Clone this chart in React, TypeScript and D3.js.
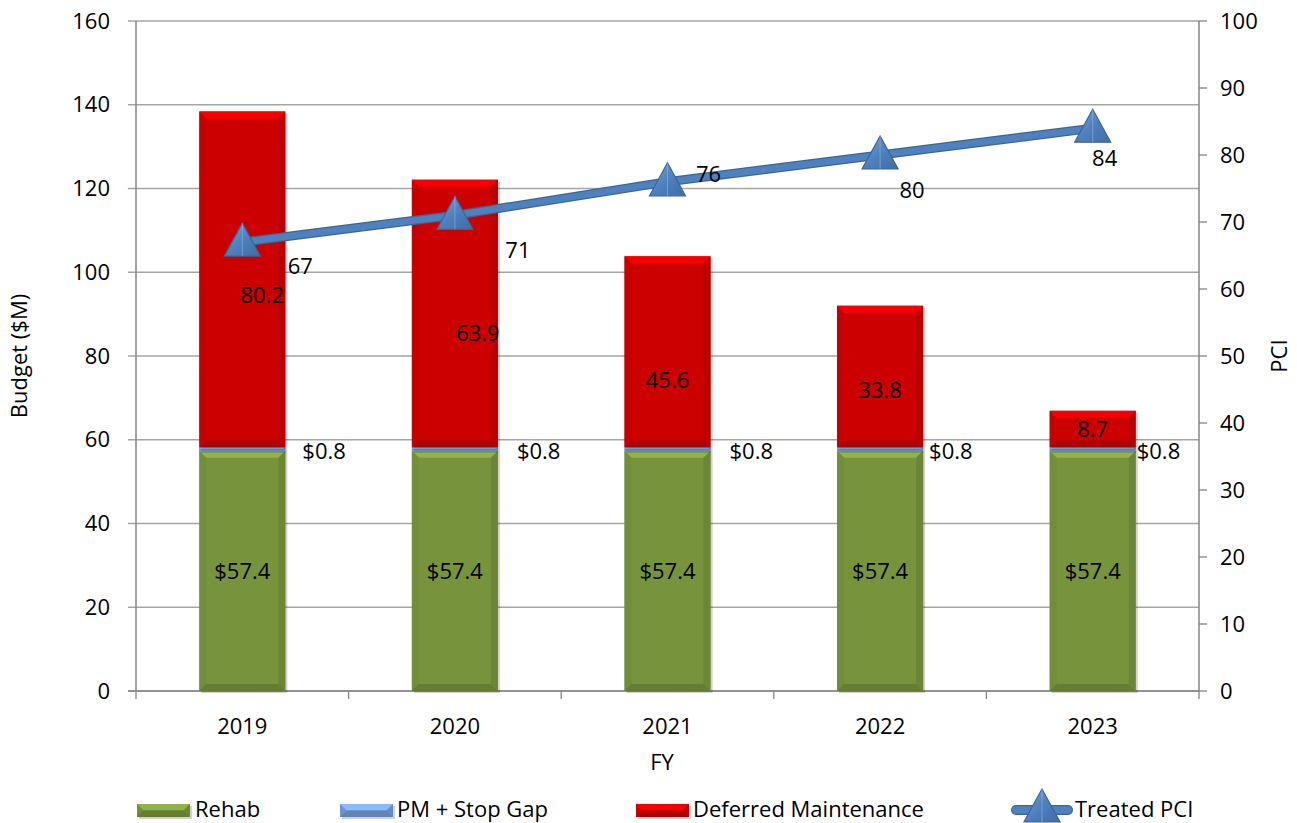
import React from 'react';
import * as d3 from 'd3';

// chart data
const years = ['2019', '2020', '2021', '2022', '2023'];
const rehab = [57.4, 57.4, 57.4, 57.4, 57.4];
const pmStopGap = [0.8, 0.8, 0.8, 0.8, 0.8];
const deferred = [80.2, 63.9, 45.6, 33.8, 8.7];
const treatedPci = [67, 71, 76, 80, 84];
const legendLabels = ['Rehab', 'PM + Stop Gap', 'Deferred Maintenance', 'Treated PCI'];

// label nudges (px) to mimic the hand-placed labels of the original
const pmLabelDx = [60, 62, 62, 49, 44];
const defLabelNudge = [[20, 16], [23, 20], [0, 28], [0, 14], [0, 0]];
const pciLabelNudge = [[58, 24], [63, 35], [41, -8], [32, 35], [12, 30]];

const W = 1297;
const H = 823;
const margin = { top: 21, right: 98, bottom: 132, left: 136 };
const font = "'Open Sans', 'Liberation Sans', sans-serif";
const fs = 22;

const colors = {
  rehab: '#77933C',
  pm: '#6F9BD6',
  deferred: '#CC0000',
  line: '#4F81BD',
  grid: '#A6A6A6',
  axis: '#868686',
};

function Bevel({ x, y, w, h, color }: { x: number; y: number; w: number; h: number; color: string }) {
  const b = Math.min(7, h / 2, w / 2);
  const c = d3.color(color)!;
  const light = c.brighter(0.55).formatHex();
  const dark = c.darker(0.45).formatHex();
  const side = c.darker(0.15).formatHex();
  const pts = (arr: number[][]) => arr.map(p => p.join(',')).join(' ');
  return (
    <g>
      <rect x={x + 2} y={y + 2} width={w} height={h} fill="#000" opacity={0.18} />
      <rect x={x} y={y} width={w} height={h} fill={color} />
      <polygon points={pts([[x, y], [x + w, y], [x + w - b, y + b], [x + b, y + b]])} fill={light} />
      <polygon points={pts([[x, y], [x + b, y + b], [x + b, y + h - b], [x, y + h]])} fill={side} opacity={0.6} />
      <polygon points={pts([[x + w, y], [x + w, y + h], [x + w - b, y + h - b], [x + w - b, y + b]])} fill={dark} opacity={0.6} />
      <polygon points={pts([[x, y + h], [x + b, y + h - b], [x + w - b, y + h - b], [x + w, y + h]])} fill={dark} />
    </g>
  );
}

function Triangle({ cx, cy, s = 1 }: { cx: number; cy: number; s?: number }) {
  const p = `M${cx},${cy - 19 * s} L${cx + 18 * s},${cy + 14 * s} L${cx - 18 * s},${cy + 14 * s} Z`;
  return (
    <g>
      <path d={p} fill="url(#triGrad)" stroke="#3A6699" strokeWidth={1.2} />
      <path d={`M${cx},${cy - 19 * s} L${cx},${cy + 14 * s}`} stroke="#8DB3E2" strokeWidth={1} opacity={0.6} />
    </g>
  );
}

export default function App() {
  const innerW = W - margin.left - margin.right;
  const innerH = H - margin.top - margin.bottom;
  const x0 = margin.left;
  const y0 = margin.top;
  const yBottom = y0 + innerH;

  const x = d3.scaleBand<string>().domain(years).range([x0, x0 + innerW]).paddingInner(0.595).paddingOuter(0.2975);
  const y = d3.scaleLinear().domain([0, 160]).range([yBottom, y0]);
  const y2 = d3.scaleLinear().domain([0, 100]).range([yBottom, y0]);

  const rows = years.map((yr, i) => ({ year: yr, rehab: rehab[i], pm: pmStopGap[i], deferred: deferred[i] }));
  const keys = ['rehab', 'pm', 'deferred'] as const;
  const stack = d3.stack<any>().keys(keys as any)(rows);
  const band = x.step();

  const line = d3
    .line<number>()
    .x((_, i) => (x(years[i]) as number) + x.bandwidth() / 2)
    .y(d => y2(d));

  const legendBase = 817;

  return (
    <svg width={W} height={H} style={{ position: 'absolute', left: 0, top: 0, background: '#fff' }} fontFamily={font}>
      <defs>
        <linearGradient id="triGrad" x1="0" y1="0" x2="1" y2="1">
          <stop offset="0" stopColor="#7FA6D8" />
          <stop offset="0.5" stopColor="#4F81BD" />
          <stop offset="1" stopColor="#3E6CA6" />
        </linearGradient>
      </defs>

      {/* gridlines */}
      {y.ticks(8).map(t => (
        <line key={t} x1={x0 - 8} x2={x0 + innerW} y1={y(t)} y2={y(t)} stroke={colors.grid} strokeWidth={1.3} />
      ))}
      {/* right axis ticks */}
      {y2.ticks(10).map(t => (
        <line key={t} x1={x0 + innerW} x2={x0 + innerW + 8} y1={y2(t)} y2={y2(t)} stroke={colors.axis} strokeWidth={1.3} />
      ))}
      {/* axes */}
      <line x1={x0} x2={x0} y1={y0} y2={yBottom} stroke={colors.axis} strokeWidth={1.5} />
      <line x1={x0 + innerW} x2={x0 + innerW} y1={y0} y2={yBottom} stroke={colors.axis} strokeWidth={1.5} />
      <line x1={x0 - 8} x2={x0 + innerW} y1={yBottom} y2={yBottom} stroke={colors.axis} strokeWidth={1.5} />
      {d3.range(years.length + 1).map(i => (
        <line key={i} x1={x0 + i * band} x2={x0 + i * band} y1={yBottom} y2={yBottom + 8} stroke={colors.axis} strokeWidth={1.3} />
      ))}

      {/* tick labels */}
      {y.ticks(8).map(t => (
        <text key={t} x={x0 - 26} y={y(t)} dy="0.35em" textAnchor="end" fontSize={fs}>{t}</text>
      ))}
      {y2.ticks(10).map(t => (
        <text key={t} x={x0 + innerW + 21} y={y2(t)} dy="0.35em" fontSize={fs}>{t}</text>
      ))}
      {years.map(yr => (
        <text key={yr} x={(x(yr) as number) + x.bandwidth() / 2} y={yBottom + 35} dy="0.35em" textAnchor="middle" fontSize={fs}>{yr}</text>
      ))}

      {/* axis titles */}
      <text x={662} y={762} dy="0.35em" textAnchor="middle" fontSize={fs}>FY</text>
      <text transform={`translate(19,${(y0 + yBottom) / 2}) rotate(-90)`} dy="0.35em" textAnchor="middle" fontSize={fs}>Budget ($M)</text>
      <text transform={`translate(1279,${(y0 + yBottom) / 2}) rotate(-90)`} dy="0.35em" textAnchor="middle" fontSize={fs}>PCI</text>

      {/* stacked bars */}
      {stack.map(layer => (
        <g key={layer.key}>
          {layer.map((d, i) => (
            <Bevel
              key={i}
              x={x(years[i]) as number}
              y={y(d[1])}
              w={x.bandwidth()}
              h={y(d[0]) - y(d[1])}
              color={(colors as any)[layer.key]}
            />
          ))}
        </g>
      ))}

      {/* bar labels */}
      {stack[0].map((d, i) => (
        <text key={'r' + i} x={(x(years[i]) as number) + x.bandwidth() / 2} y={y((d[0] + d[1]) / 2)} dy="0.35em" textAnchor="middle" fontSize={fs}>
          ${rehab[i].toFixed(1)}
        </text>
      ))}
      {stack[1].map((d, i) => (
        <text key={'p' + i} x={(x(years[i]) as number) + x.bandwidth() / 2 + pmLabelDx[i]} y={y(d[1]) + 4} dy="0.35em" fontSize={fs}>
          ${pmStopGap[i].toFixed(1)}
        </text>
      ))}
      {stack[2].map((d, i) => (
        <text
          key={'d' + i}
          x={(x(years[i]) as number) + x.bandwidth() / 2 + defLabelNudge[i][0]}
          y={y((d[0] + d[1]) / 2) + defLabelNudge[i][1]}
          dy="0.35em"
          textAnchor="middle"
          fontSize={fs}
        >
          {deferred[i]}
        </text>
      ))}

      {/* PCI line */}
      <path d={line(treatedPci) || ''} fill="none" stroke="#3A6699" strokeWidth={9} strokeLinecap="round" />
      <path d={line(treatedPci) || ''} fill="none" stroke={colors.line} strokeWidth={6.5} strokeLinecap="round" />
      {treatedPci.map((v, i) => (
        <Triangle key={i} cx={(x(years[i]) as number) + x.bandwidth() / 2} cy={y2(v)} />
      ))}
      {treatedPci.map((v, i) => (
        <text
          key={'t' + i}
          x={(x(years[i]) as number) + x.bandwidth() / 2 + pciLabelNudge[i][0]}
          y={y2(v) + pciLabelNudge[i][1]}
          dy="0.35em"
          textAnchor="middle"
          fontSize={fs}
        >
          {v}
        </text>
      ))}

      {/* legend */}
      <g fontSize={fs}>
        <Bevel x={137} y={804} w={53} h={13} color={colors.rehab} />
        <text x={195} y={legendBase}>{legendLabels[0]}</text>
        <Bevel x={340} y={804} w={53} h={13} color={colors.pm} />
        <text x={397} y={legendBase}>{legendLabels[1]}</text>
        <Bevel x={636} y={804} w={53} h={13} color={colors.deferred} />
        <text x={693} y={legendBase}>{legendLabels[2]}</text>
        <line x1={1016} x2={1068} y1={810} y2={810} stroke="#3A6699" strokeWidth={10} strokeLinecap="round" />
        <line x1={1016} x2={1068} y1={810} y2={810} stroke={colors.line} strokeWidth={7.5} strokeLinecap="round" />
        <Triangle cx={1042} cy={808} />
        <text x={1075} y={legendBase}>{legendLabels[3]}</text>
      </g>
    </svg>
  );
}
